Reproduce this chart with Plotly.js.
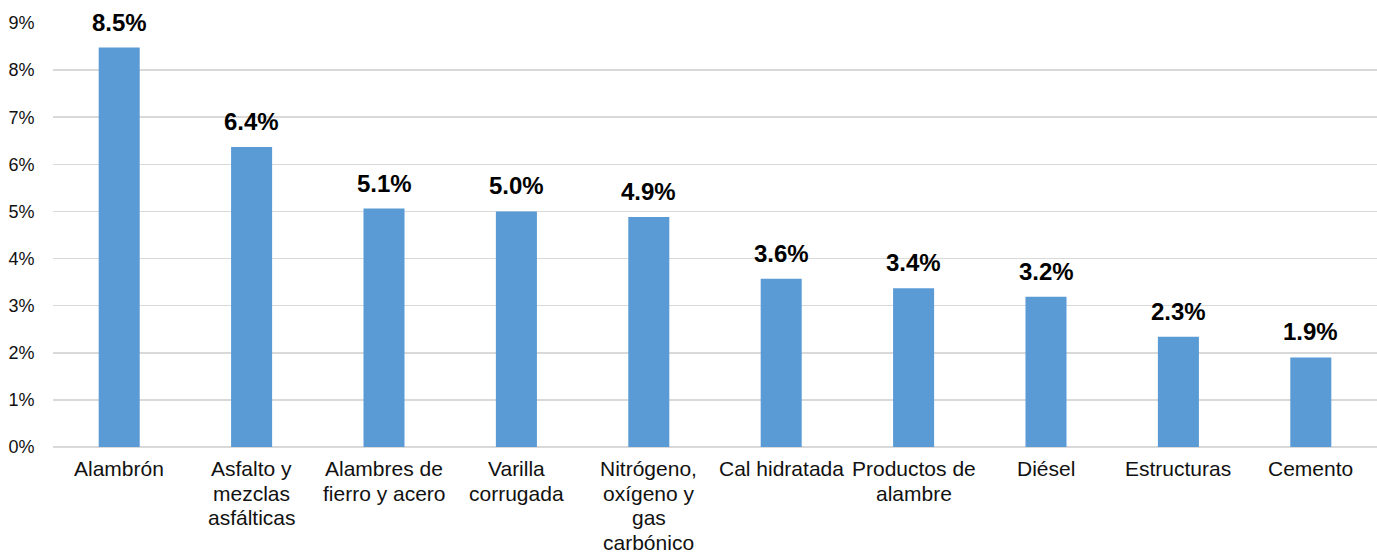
<!DOCTYPE html>
<html>
<head>
<meta charset="utf-8">
<script src="https://cdn.plot.ly/plotly-3.0.1.min.js"></script>
<style>html,body{margin:0;padding:0;background:#fff;}#chart{width:1377px;height:554px;}</style>
</head>
<body>
<div id="chart"></div>
<script>
const categories = ["Alambrón", "Asfalto y mezclas asfálticas", "Alambres de fierro y acero", "Varilla corrugada", "Nitrógeno, oxígeno y gas carbónico", "Cal hidratada", "Productos de alambre", "Diésel", "Estructuras", "Cemento"];
const categoryLines = [["Alambrón"], ["Asfalto y", "mezclas", "asfálticas"], ["Alambres de", "fierro y acero"], ["Varilla", "corrugada"], ["Nitrógeno,", "oxígeno y", "gas", "carbónico"], ["Cal hidratada"], ["Productos de", "alambre"], ["Diésel"], ["Estructuras"], ["Cemento"]];
const values = [8.48, 6.37, 5.06, 5.0, 4.88, 3.57, 3.37, 3.19, 2.34, 1.9];
const labels = ["8.5%", "6.4%", "5.1%", "5.0%", "4.9%", "3.6%", "3.4%", "3.2%", "2.3%", "1.9%"];
const yTicks = [0,1,2,3,4,5,6,7,8,9];

const FONT = 'Liberation Sans, Arial, sans-serif';

const trace = {
  type: 'bar',
  x: categories,
  y: values,
  marker: {color: '#5B9BD5'},
  hoverinfo: 'skip'
};

const annotations = categories.map((c, i) => ({
  x: c, y: values[i], text: '<b>' + labels[i] + '</b>',
  showarrow: false, yanchor: 'bottom', yshift: 10,
  font: {family: FONT, size: 24, color: '#000'}
}));

categories.forEach((c, i) => {
  categoryLines[i].forEach((line, j) => {
    annotations.push({
      x: c, xref: 'x', y: 0, yref: 'paper', text: line,
      showarrow: false, yanchor: 'middle', yshift: -21.5 - 24.5 * j,
      font: {family: FONT, size: 21, color: '#111'}
    });
  });
});

const layout = {
  width: 1377, height: 554,
  margin: {l: 53, r: 0, t: 23, b: 107},
  paper_bgcolor: '#fff', plot_bgcolor: '#fff',
  bargap: 0.69,
  showlegend: false,
  font: {family: FONT, size: 18, color: '#111'},
  xaxis: {
    type: 'category', showgrid: false, showline: false, zeroline: false,
    showticklabels: false, ticks: '', fixedrange: true
  },
  yaxis: {
    range: [0, 9], tickvals: yTicks, ticktext: yTicks.map(v => v + '%'),
    showgrid: true, gridcolor: '#D9D9D9', gridwidth: 1.5,
    zeroline: true, zerolinecolor: '#D9D9D9', zerolinewidth: 1.5,
    showline: false,
    ticks: 'outside', ticklen: 14, tickcolor: 'rgba(0,0,0,0)',
    tickfont: {size: 18, color: '#111'}, fixedrange: true
  },
  annotations: annotations
};

Plotly.newPlot('chart', [trace], layout, {displayModeBar: false, staticPlot: true});
</script>
</body>
</html>
